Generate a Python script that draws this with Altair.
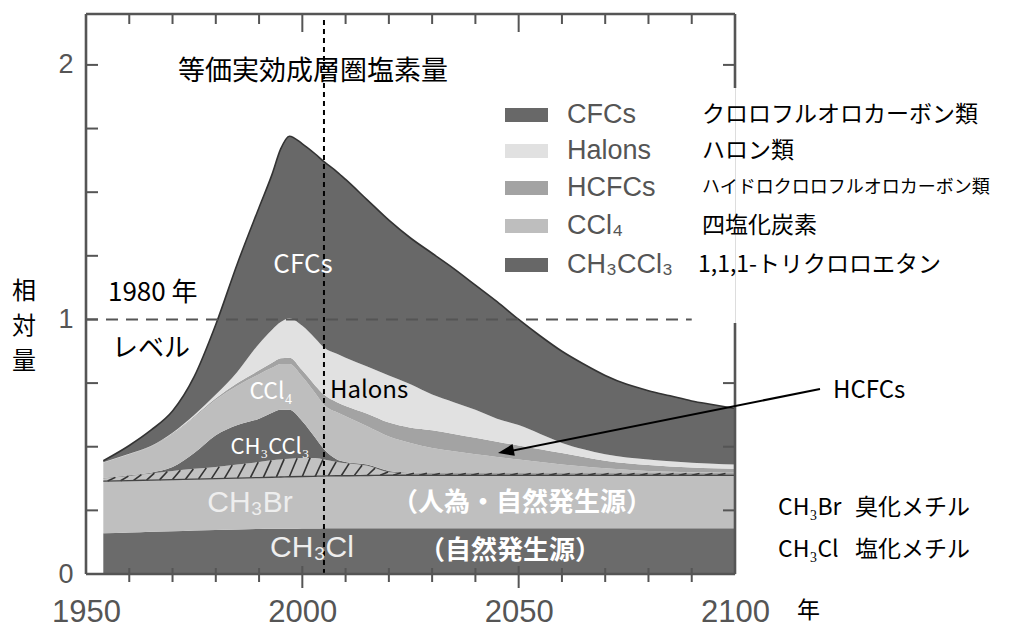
import altair as alt
import pandas as pd
import numpy as np

# ---------------- data (cumulative tops of each stacked band) -------------
YEARS = [1954, 1960, 1965, 1970, 1975, 1980, 1985, 1990, 1993, 1995, 1997, 2000, 2003, 2005,
         2008, 2010, 2015, 2020, 2025, 2030, 2035, 2040, 2045, 2050, 2055, 2060, 2065, 2070,
         2075, 2080, 2085, 2090, 2095, 2100]

CH3CL_TOP = [0.160, 0.163, 0.166, 0.168, 0.171, 0.173, 0.175, 0.177, 0.178, 0.178, 0.178, 0.179,
             0.179, 0.180, 0.180, 0.180, 0.180, 0.180, 0.180, 0.180, 0.180, 0.180, 0.180, 0.180,
             0.180, 0.180, 0.180, 0.180, 0.180, 0.180, 0.180, 0.180, 0.180, 0.180]
CH3BR_TOP = [0.365, 0.367, 0.369, 0.371, 0.373, 0.375, 0.377, 0.379, 0.380, 0.381, 0.382, 0.383,
             0.384, 0.385, 0.386, 0.386, 0.387, 0.388, 0.388, 0.388, 0.388, 0.388, 0.388, 0.388,
             0.388, 0.388, 0.388, 0.388, 0.388, 0.388, 0.388, 0.388, 0.388, 0.388]
HATCH_TOP = [0.375, 0.385, 0.395, 0.405, 0.413, 0.420, 0.430, 0.440, 0.447, 0.450, 0.453, 0.456,
             0.456, 0.450, 0.440, 0.435, 0.425, 0.400, 0.396, 0.395, 0.395, 0.395, 0.395, 0.395,
             0.395, 0.395, 0.395, 0.395, 0.395, 0.395, 0.395, 0.395, 0.395, 0.395]
CH3CCL3_TOP = [0.377, 0.388, 0.398, 0.420, 0.475, 0.545, 0.585, 0.610, 0.633, 0.645, 0.645, 0.600,
               0.535, 0.490, 0.450, 0.440, 0.430, 0.405, 0.398, 0.397, 0.397, 0.397, 0.397, 0.397,
               0.397, 0.397, 0.397, 0.397, 0.397, 0.397, 0.397, 0.397, 0.397, 0.397]
CCL4_TOP = [0.437, 0.470, 0.500, 0.550, 0.615, 0.685, 0.740, 0.785, 0.810, 0.825, 0.825, 0.775,
            0.710, 0.665, 0.635, 0.620, 0.580, 0.540, 0.515, 0.495, 0.482, 0.470, 0.460, 0.450,
            0.440, 0.430, 0.422, 0.415, 0.410, 0.405, 0.402, 0.400, 0.399, 0.398]
HCFC_TOP = [0.438, 0.471, 0.502, 0.553, 0.619, 0.690, 0.750, 0.800, 0.830, 0.848, 0.850, 0.800,
            0.740, 0.705, 0.675, 0.660, 0.630, 0.595, 0.575, 0.565, 0.550, 0.535, 0.520, 0.505,
            0.490, 0.475, 0.460, 0.445, 0.435, 0.428, 0.422, 0.418, 0.415, 0.413]
HALON_TOP = [0.439, 0.472, 0.503, 0.555, 0.625, 0.705, 0.795, 0.905, 0.960, 0.990, 1.005, 0.975,
             0.925, 0.890, 0.865, 0.850, 0.815, 0.780, 0.745, 0.705, 0.675, 0.645, 0.610, 0.585,
             0.550, 0.515, 0.490, 0.470, 0.458, 0.450, 0.443, 0.437, 0.433, 0.430]
CFC_TOP = [0.445, 0.505, 0.565, 0.640, 0.775, 0.980, 1.220, 1.440, 1.570, 1.670, 1.720, 1.690,
           1.650, 1.620, 1.580, 1.550, 1.470, 1.390, 1.320, 1.260, 1.200, 1.135, 1.070, 1.000,
           0.935, 0.875, 0.825, 0.780, 0.745, 0.720, 0.700, 0.680, 0.665, 0.650]

X_LABELS = [1950, 2000, 2050, 2100]
X_MINOR = [1960, 1970, 1980, 1990, 2010, 2020, 2030, 2040, 2060, 2070, 2080, 2090]
X_MAJOR = [2000, 2050]
Y_LABELS = [0, 1, 2]
Y_TICKS = [0.25, 0.5, 0.75, 1.0, 1.25, 1.5, 1.75, 2.0]
Y_TICKS_RIGHT = [0.25, 0.5, 0.75, 2.0]
LEVEL_1980 = 1.0
NOW_YEAR = 2005

LEGEND_NAMES = ["CFCs", "Halons", "HCFCs", "CCl₄", "CH₃CCl₃"]
LEGEND_JP = ["クロロフルオロカーボン類", "ハロン類", "ハイドロクロロフルオロカーボン類", "四塩化炭素",
             "1,1,1-トリクロロエタン"]
Y_TITLE = ["相", "対", "量"]

# ---------------- style ----------------
W, H = 649, 560
LAT = "Liberation Sans"
JP = "Noto Sans CJK JP"
AXC = "#555555"

XSC = alt.Scale(domain=[1950, 2100], nice=False, zero=False)
YSC = alt.Scale(domain=[0, 2.2], nice=False, zero=True)
XAX = alt.Axis(values=X_LABELS, format="d", labelFontSize=31, labelFont=LAT, labelColor=AXC,
               ticks=False, tickSize=0, domain=False, grid=False, labelPadding=38,
               labelBaseline="middle", title=None, labelFlush=False, labelOverlap=False)
YAX = alt.Axis(values=Y_LABELS, labelFontSize=27, labelFont=LAT, labelColor=AXC, ticks=False,
               tickSize=0, domain=False, grid=False, labelPadding=13, title=None,
               labelFlush=False, labelOverlap=False)


def X(field):
    return alt.X(field, type="quantitative", scale=XSC, axis=XAX)


def Y(field):
    return alt.Y(field, type="quantitative", scale=YSC, axis=YAX)


zeros = [0.0] * len(YEARS)
bands = [
    ("CH3Cl", zeros, CH3CL_TOP, "#6b6b6b"),
    ("CH3Br", CH3CL_TOP, CH3BR_TOP, "#bfbfbf"),
    ("CH3Br_anthro", CH3BR_TOP, HATCH_TOP, "#c2c2c2"),
    ("CH3CCl3", HATCH_TOP, CH3CCL3_TOP, "#676767"),
    ("CCl4", CH3CCL3_TOP, CCL4_TOP, "#bebebe"),
    ("HCFCs", CCL4_TOP, HCFC_TOP, "#a3a3a3"),
    ("Halons", HCFC_TOP, HALON_TOP, "#e1e1e1"),
    ("CFCs", HALON_TOP, CFC_TOP, "#686868"),
]

layers = []
for name, lo, hi, col in bands:
    d = pd.DataFrame({"year": YEARS, "lo": lo, "hi": hi})
    layers.append(
        alt.Chart(d).mark_area(color=col, interpolate="monotone", opacity=1)
        .encode(x=X("year"), y=Y("hi"), y2="lo")
    )

# hatching of the anthropogenic CH3Br band
hx = np.arange(1955.0, 2099.0, 3.0)
hatch = pd.DataFrame({
    "x": hx, "x2": hx + 1.8,
    "y": np.interp(hx, YEARS, CH3BR_TOP),
    "y2": np.interp(hx + 1.8, YEARS, HATCH_TOP),
})
layers.append(alt.Chart(hatch).mark_rule(color="#333333", strokeWidth=1.6)
              .encode(x=X("x"), x2="x2", y=Y("y"), y2="y2"))

base_line = pd.DataFrame({"year": YEARS, "v": CH3BR_TOP})
layers.append(alt.Chart(base_line).mark_line(color="#444444", strokeWidth=1.3, interpolate="monotone")
              .encode(x=X("year"), y=Y("v")))
cfc_line = pd.DataFrame({"year": YEARS, "v": CFC_TOP})
layers.append(alt.Chart(cfc_line).mark_line(color="#333333", strokeWidth=1.6, interpolate="monotone")
              .encode(x=X("year"), y=Y("v")))

one = pd.DataFrame({"a": [0]})

# 1980 level dashed line
lvl = pd.DataFrame({"x": [1950], "x2": [2090], "y": [LEVEL_1980]})
layers.append(alt.Chart(lvl).mark_rule(color="#555555", strokeWidth=2, strokeDash=[12, 8])
              .encode(x=X("x"), x2="x2", y=Y("y")))
# current-year dashed line
now = pd.DataFrame({"x": [NOW_YEAR]})
layers.append(alt.Chart(now).mark_rule(color="black", strokeWidth=2, strokeDash=[5, 4])
              .encode(x=X("x"), y=alt.value(6), y2=alt.value(H)))

# ticks
tmin = pd.DataFrame({"x": X_MINOR})
tmaj = pd.DataFrame({"x": X_MAJOR})
layers.append(alt.Chart(tmin).mark_rule(color=AXC, strokeWidth=2)
              .encode(x=X("x"), y=alt.value(H - 6), y2=alt.value(H + 8)))
layers.append(alt.Chart(tmaj).mark_rule(color=AXC, strokeWidth=2)
              .encode(x=X("x"), y=alt.value(H - 8), y2=alt.value(H + 14)))
layers.append(alt.Chart(tmin).mark_rule(color=AXC, strokeWidth=2)
              .encode(x=X("x"), y=alt.value(0), y2=alt.value(10)))
layers.append(alt.Chart(tmaj).mark_rule(color=AXC, strokeWidth=2)
              .encode(x=X("x"), y=alt.value(0), y2=alt.value(18)))
ty = pd.DataFrame({"y": Y_TICKS})
layers.append(alt.Chart(ty).mark_rule(color=AXC, strokeWidth=2)
              .encode(y=Y("y"), x=alt.value(0), x2=alt.value(12)))
tyr = pd.DataFrame({"y": Y_TICKS_RIGHT})
layers.append(alt.Chart(tyr).mark_rule(color=AXC, strokeWidth=2)
              .encode(y=Y("y"), x=alt.value(W - 12), x2=alt.value(W)))

# frame
for enc in [
    dict(x=alt.value(0), y=alt.value(0), y2=alt.value(H)),
    dict(y=alt.value(H), x=alt.value(0), x2=alt.value(W)),
    dict(y=alt.value(0), x=alt.value(0), x2=alt.value(W)),
    dict(x=alt.value(W), y=alt.value(0), y2=alt.value(74)),
    dict(x=alt.value(W), y=alt.value(309), y2=alt.value(H)),
]:
    layers.append(alt.Chart(one).mark_rule(color=AXC, strokeWidth=2.6).encode(**enc))


def txt(s, x, y, size, color="black", font=JP, align="left", weight="normal", baseline="middle"):
    return alt.Chart(one).mark_text(text=s, fontSize=size, color=color, font=font, align=align,
                                    baseline=baseline, fontWeight=weight
                                    ).encode(x=alt.value(x), y=alt.value(y))


layers += [txt(ch, -62, yy, 24, align="center") for ch, yy in zip(Y_TITLE, [278, 313, 348])]
layers += [
    txt("等価実効成層圏塩素量", 92, 58, 27),
    txt("1980 年", 22, 279, 26),
    txt("レベル", 26, 335, 26),
    txt("CFCs", 217, 251, 26, color="white", align="center"),
    txt("CCl₄", 185, 378, 23, color="white", align="center"),
    txt("Halons", 244, 377, 24),
    txt("CH₃CCl₃", 184, 433, 22, color="white", align="center"),
    txt("CH₃Br", 164, 489, 30, color="#eeeeee", font=LAT, align="center"),
    txt("CH₃Cl", 226, 534, 30, color="#eeeeee", font=LAT, align="center"),
    txt("（人為・自然発生源）", 436, 489, 26, color="white", weight="bold", align="center"),
    txt("（自然発生源）", 424, 537, 26, color="white", weight="bold", align="center"),
    txt("HCFCs", 747, 377, 24),
    txt("CH₃Br", 692, 494, 23),
    txt("臭化メチル", 769, 494, 23),
    txt("CH₃Cl", 692, 536, 23),
    txt("塩化メチル", 769, 536, 23),
    txt("年", 711, 597, 23),
]

# arrow
layers.append(alt.Chart(one).mark_rule(color="black", strokeWidth=2)
              .encode(x=alt.value(734), y=alt.value(375), x2=alt.value(420), y2=alt.value(438)))
layers.append(alt.Chart(one).mark_point(shape="M0,0L2,-0.75L2,0.75Z", size=256, filled=True,
                                         color="black", opacity=1, angle=349)
              .encode(x=alt.value(412), y=alt.value(439)))

# legend
LEG_Y = [101, 137, 174, 212, 251]
LEG_C = ["#686868", "#e1e1e1", "#a3a3a3", "#bebebe", "#676767"]
LEG_FS = [23, 23, 18, 23, 23]
LEG_X = [616, 616, 616, 616, 612]
for name, jp, yc, col, fs, lx in zip(LEGEND_NAMES, LEGEND_JP, LEG_Y, LEG_C, LEG_FS, LEG_X):
    layers.append(alt.Chart(one).mark_rect(color=col)
                  .encode(x=alt.value(419), x2=alt.value(462), y=alt.value(yc - 7),
                          y2=alt.value(yc + 7)))
    layers.append(txt(name, 481, yc, 27, color=AXC, font=LAT))
    layers.append(txt(jp, lx, yc, fs))

chart = alt.layer(*layers).properties(
    width=W, height=H,
    padding={"left": 78, "top": 6, "right": 267, "bottom": 56},
    autosize=alt.AutoSizeParams(type="none"),
).configure_view(stroke=None).configure(background="white")

chart.save("out.html", embed_options={"renderer": "svg", "actions": False})
